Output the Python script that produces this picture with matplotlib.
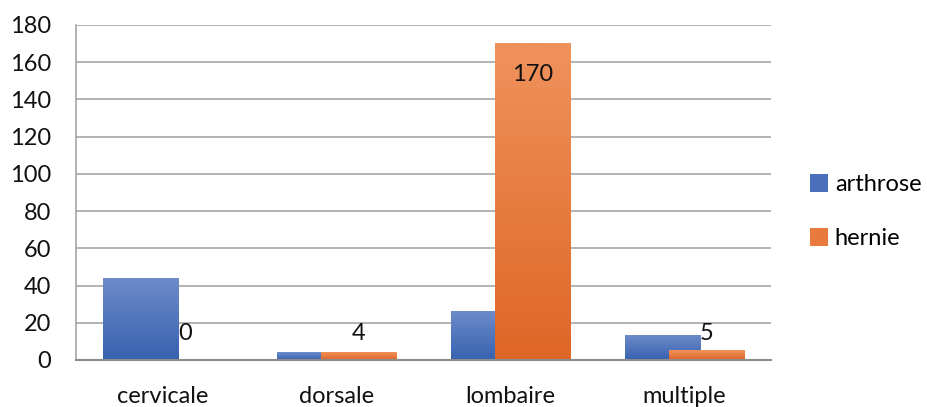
import numpy as np
import matplotlib
matplotlib.use("Agg")
import matplotlib.pyplot as plt
from matplotlib.colors import LinearSegmentedColormap
from matplotlib.patches import Patch

plt.rcParams['font.family'] = ['Lato', 'DejaVu Sans']

categories = ['cervicale', 'dorsale', 'lombaire', 'multiple']
arthrose = [44, 4, 26, 13]
hernie = [0, 4, 170, 5]
hernie_labels = ['0', '4', '170', '5']

blue_cmap = LinearSegmentedColormap.from_list('b', ['#3762b0', '#6d8bc9'])
orange_cmap = LinearSegmentedColormap.from_list('o', ['#de6626', '#f0925c'])

fig = plt.figure(figsize=(9.28, 4.07), dpi=100)
ax = fig.add_axes([0.0819, 0.1155, 0.7491, 0.8231])

x = np.arange(len(categories))
w = 0.432
off = 0.127
ymax = 180

grad = np.linspace(0, 1, 256).reshape(-1, 1)


def grad_bars(xs, vals, cmap, z):
    bars = ax.bar(xs, vals, w, color='none', edgecolor='none', zorder=z)
    for b in bars:
        h = b.get_height()
        if h <= 0:
            continue
        x0 = b.get_x()
        # gradient spans full height of the bar
        ax.imshow(grad, cmap=cmap, origin='lower', aspect='auto',
                  extent=(x0, x0 + b.get_width(), 0, h), zorder=z)
    return bars


grad_bars(x - off, arthrose, blue_cmap, 2)
grad_bars(x + off, hernie, orange_cmap, 3)

fs = 17
for xi, v, lab in zip(x + off, hernie, hernie_labels):
    ylab = v - 16.8 if v > 30 else 14.5
    ax.text(xi, ylab, lab, ha='center', va='center', fontsize=fs, color='#111111', zorder=5)

ax.set_xlim(-0.5, len(categories) - 0.5)
ax.set_ylim(0, ymax)
ax.set_yticks(np.arange(0, ymax + 1, 20))
ax.set_xticks(x)
ax.set_xticklabels(categories)
ax.yaxis.grid(True, color='#a6a6a6', linewidth=1.2, zorder=0)
ax.set_axisbelow(True)
for s in ['top', 'right']:
    ax.spines[s].set_visible(False)
ax.spines['left'].set_color('#a6a6a6')
ax.spines['bottom'].set_color('#8c8c8c')
ax.spines['left'].set_linewidth(1.2)
ax.spines['bottom'].set_linewidth(1.5)
ax.spines['bottom'].set_zorder(6)
ax.tick_params(axis='both', length=0, labelsize=fs, colors='#111111')
ax.tick_params(axis='y', pad=18)
ax.tick_params(axis='x', pad=19)

handles = [Patch(facecolor='#4a70bc', label='arthrose'),
           Patch(facecolor='#e87a3e', label='hernie')]
fig.legend(handles=handles, loc='center left', bbox_to_anchor=(0.85, 0.48),
           frameon=False, fontsize=fs, handlelength=0.75, handleheight=0.75,
           handletextpad=0.3, labelspacing=1.4)

fig.savefig('out.png', dpi=100)
